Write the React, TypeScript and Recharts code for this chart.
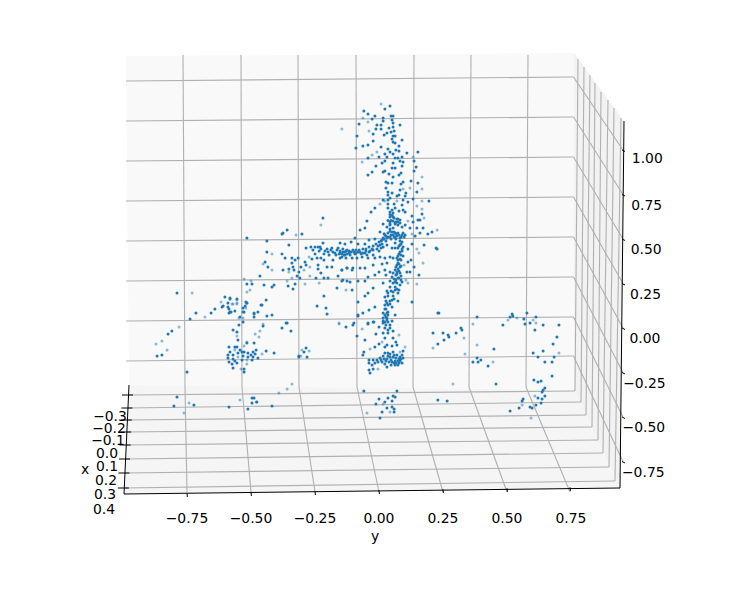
import { ReferenceLine, Scatter, ScatterChart, XAxis, YAxis } from "recharts";

// projected positions: [y axis units, z axis units]
const SOLID_POINTS: number[][] = [
  [.043,1.303],[.023,1.287],[-.059,1.275],[-.016,1.247],[-.043,1.258],[-.027,1.230],[.016,1.236],[.047,1.247],[.055,1.247],[.016,1.219],[-.078,1.202],[.051,1.225],[.055,1.208],[.082,1.197],[-.008,1.197],[.008,1.197],[.039,1.180],[.055,1.185],[.008,1.174],[-.012,1.174],[.047,1.157],[.059,1.163],[-.023,1.146],[.020,1.140],[.031,1.152],[-.086,1.135],[.055,1.135],[.063,1.135],[.051,1.118],[.090,1.112],[-.023,1.107],[.055,1.101],[.063,1.096],[-.043,1.084],[-.063,1.079],[-.090,1.067],[.008,1.073],[.078,1.079],[.035,1.062],[.043,1.045],[.066,1.056],[.078,1.051],[.023,1.034],[.055,1.034],[.109,1.039],[.152,1.045],[0,1.017],[.031,1.017],[-.043,1.011],[.063,1.011],[.074,1.011],[.090,1.017],[.023,.994],[.012,.983],[.082,.994],[.094,.989],[.137,.994],[-.012,.966],[.055,.983],[.090,.966],[.145,.961],[.051,.955],[.063,.955],[.016,.933],[.023,.938],[.137,.938],[-.027,.933],[-.043,.916],[.039,.921],[.086,.927],[.078,.916],[.055,.904],[.125,.882],[.027,.876],[.094,.876],[.035,.871],[.051,.871],[.152,.871],[.086,.865],[.027,.843],[.082,.831],[.148,.820],[.035,.820],[.051,.815],[.105,.815],[.035,.803],[.078,.803],[.070,.798],[.102,.798],[.043,.787],[.016,.775],[.035,.775],[.094,.775],[.113,.764],[.133,.781],[.195,.770],[.035,.753],[.059,.753],[.090,.747],[.035,.730],[.051,.719],[.063,.730],[.094,.719],[-.016,.730],[-.031,.708],[.078,.713],[.102,.708],[.043,.708],[.055,.702],[.129,.685],[.168,.697],[.043,.680],[.055,.680],[.152,.663],[.133,.652],[-.047,.657],[.016,.640],[.043,.652],[.055,.657],[.070,.669],[.082,.663],[.043,.640],[.063,.646],[.082,.646],
  [.074,.669],[.160,.663],[.063,.640],[.043,.635],[-.055,.618],[-.074,.607],[.004,.596],[.031,.624],[.043,.612],[.055,.618],[.074,.635],[.090,.624],[.102,.635],[.121,.618],[.148,.618],[.172,.618],[.207,.596],[.191,.584],[.160,.590],[.141,.573],
  [.023,.579],[.035,.590],[.051,.596],[.063,.590],[.074,.590],[.090,.579],[.102,.579],[.043,.567],[.063,.567],[.082,.562],[.031,.562],[.016,.562],[.012,.551],[.055,.579],[.070,.573],
  [0,.539],[-.012,.528],[-.023,.517],[-.039,.511],[-.051,.500],[-.063,.500],[-.078,.494],[-.090,.494],[-.102,.494],[-.117,.489],[-.129,.489],[-.141,.483],[-.039,.551],[-.016,.556],[-.055,.528],[-.094,.562],[-.109,.539],[-.133,.528],[-.152,.534],[-.082,.528],
  [.090,.539],[.082,.522],[.094,.511],[.074,.506],[.090,.489],[.078,.472],[.094,.461],[.070,.449],[.086,.438],[.074,.421],[.066,.399],[.082,.399],[.063,.382],[.078,.376],[.070,.360],[.086,.348],[.074,.337],[.066,.326],[.055,.365],[.043,.371],[.023,.382],[0,.371],[-.016,.354],[-.043,.343],[.027,.354],[.051,.343],
  [.063,.534],[.051,.506],[.063,.506],[.031,.522],[.016,.511],[0,.489],[-.023,.494],[-.039,.483],[-.063,.478],[-.082,.483],[-.094,.472],[-.113,.466],[-.133,.466],[-.152,.478],[-.145,.455],[-.105,.449],[-.086,.449],[-.066,.455],[-.043,.449],[-.016,.449],[.004,.455],[.023,.449],[.043,.455],[.055,.449],[.031,.421],[.012,.416],[-.055,.393],[-.074,.393],[-.102,.393],[-.125,.393],[-.145,.382],[-.105,.382],[-.023,.410],
  [.113,.500],[.129,.528],[.176,.522],[.223,.506],[.227,.500],[.125,.438],[.113,.427],[.137,.399],[.109,.371],[.121,.371],[.156,.354],
  [.043,.320],[.055,.309],[.070,.309],[.090,.315],[.016,.309],[-.141,.326],[-.113,.315],[-.082,.320],[-.055,.320],[-.105,.270],[-.023,.281],[.043,.287],[.063,.287],[.078,.270],[.055,.258],[.031,.264],[.074,.253],[-.043,.253],[-.055,.236],[.035,.236],[.023,.230],[-.082,.202],[.129,.202],[.027,.208],[.043,.208],[.074,.208],[.023,.185],[.035,.185],[-.016,.174],[.051,.174],[-.039,.157],[.023,.163],[-.063,.140],[.230,.140],[.016,.140],[.031,.140],[-.082,.129],[.035,.129],[.016,.112],[.031,.112],[-.020,.090],[.023,.090],[.035,.090],[-.043,.084],[-.098,.084],
  [-.219,.674],[-.359,.607],[-.375,.590],[-.379,.584],[-.301,.584],[-.516,.562],[-.438,.545],[-.352,.522],[-.219,.534],[-.438,.483],[-.379,.472],[-.266,.511],[-.250,.511],[-.238,.511],[-.230,.511],[-.285,.506],[-.203,.500],[-.184,.506],[-.160,.506],[-.141,.500],[-.125,.494],[-.199,.483],[-.180,.483],[-.152,.489],[-.133,.483],[-.215,.472],[-.195,.466],[-.168,.466],[-.145,.472],[-.125,.472],[-.250,.472],[-.234,.489],[-.242,.449],[-.227,.449],[-.340,.449],[-.367,.449],[-.316,.449],[-.328,.438],[-.445,.427],[-.340,.421],[-.289,.427],[-.262,.444],[-.215,.438],[-.180,.438],[-.152,.449],[-.129,.449],[-.336,.399],[-.434,.399],[-.285,.410],[-.305,.399],[-.238,.410],[-.203,.399],[-.184,.399],[-.375,.382],[-.352,.388],[-.332,.382],[-.238,.388],[-.125,.393],[-.145,.382],[-.313,.371],[-.227,.365],[-.160,.348],[-.465,.348],[-.320,.348],[-.309,.337],[-.246,.337],[-.215,.337],[-.199,.337],[-.145,.320],[-.125,.320],[-.328,.303],[-.516,.303],[-.496,.303],[-.449,.298],[-.355,.292],[-.410,.298],[-.418,.287],[-.336,.275],[-.164,.281],[-.215,.236],[-.582,.219],[-.516,.197],[-.441,.213],[-.461,.185],[-.242,.180],[-.207,.169],[-.563,.152],[-.582,.146],[-.527,.146],[-.473,.146],[-.488,.135],[-.203,.135],[-.418,.129],[-.438,.124],[-.488,.118],[-.543,.118],[-.363,.084],[-.531,.090],
  [-.789,.253],[-.602,.230],[-.582,.225],[-.590,.197],[-.555,.219],[-.609,.180],[-.613,.174],[-.590,.174],[-.586,.163],[-.520,.202],[-.516,.197],[-.523,.180],[-.531,.169],[-.457,.185],[-.488,.140],[-.586,.140],[-.578,.146],[-.641,.163],[-.656,.140],[-.715,.140],[-.738,.107],[-.531,.146],
  [-.809,.039],[-.824,.022],[-.547,.073],[-.570,.045],[-.555,.034],[-.551,-.011],[-.453,.067],[-.379,.056],[-.359,.084],[-.344,.039],[-.848,-.096],[-.867,-.101],[-.516,-.028],[-.488,-.028],
  [-.586,-.051],[-.563,-.051],[-.555,-.051],[-.543,-.067],[-.582,-.079],[-.527,-.079],[-.512,-.084],[-.480,-.067],[-.492,-.079],[-.590,-.096],[-.570,-.096],[-.551,-.084],[-.535,-.079],[-.500,-.096],[-.484,-.090],[-.590,-.112],[-.570,-.118],[-.531,-.101],[-.512,-.107],[-.492,-.107],[-.473,-.112],[-.586,-.135],[-.563,-.129],[-.535,-.124],[-.496,-.124],[-.574,-.146],[-.555,-.140],[-.570,-.169],[-.527,-.174],[-.527,-.191],[-.441,-.073],[-.410,-.084],
  [-.285,-.056],[-.293,-.079],[-.281,-.107],[-.313,-.107],[-.313,-.101],[-.750,-.191],[-.789,-.331],[-.723,-.376],[-.801,-.382],[-.496,-.337],[-.488,-.337],[-.477,-.360],[-.496,-.365],[-.586,-.388],[-.512,-.399],[-.418,-.382],
  [-.129,.062],[-.102,.073],[-.043,.079],[-.023,.090],[-.082,.124],[-.086,.011],[0,.062],[-.012,.022],[-.055,-.011],[.016,.084],[.031,.101],[.051,.096],[.063,.129],[.023,.056],[.043,.056],[.055,.039],[.016,.028],[.035,.028],[.023,0],[.055,0],[.066,-.022],[0,-.034],[-.016,-.051],[-.059,-.079],[-.063,-.096],[.031,-.039],[.051,-.045],[.070,-.039],[.023,-.051],[.094,-.073],[.023,-.084],[.035,-.084],[.055,-.079],[.070,-.096],[.082,-.107],[.094,-.112],[.016,-.101],[.004,-.112],[-.008,-.124],[-.023,-.124],[-.039,-.124],[.031,-.118],[.047,-.124],[.063,-.129],[.074,-.129],[.090,-.140],[.012,-.135],[-.016,-.140],[-.039,-.140],[-.027,-.152],[.023,-.146],[.047,-.152],[.063,-.152],[.074,-.152],[.031,-.163],[-.023,-.174],[-.039,-.180],[-.035,-.197],[.211,.028],[.230,-.034],[.055,-.107],[.066,-.112],[.078,-.118],[.059,-.140],
  [-.059,-.298],[.070,-.298],[.055,-.326],[.063,-.331],[.035,-.337],[0,-.343],[.023,-.360],[.051,-.354],[-.012,-.371],[.051,-.388],[.031,-.393],[.059,-.399],[.012,-.416],[.059,-.416],[.004,-.449],[.230,-.348],
  [.234,.140],[.383,.118],[.250,.028],[.270,.017],[.273,.006],[.301,.028],[.320,.056],[.324,.045],[.254,-.011],[.449,-.062],[.383,-.112],[.398,-.124],[.367,-.135],[.387,-.135],[.426,-.157],
  [.520,.135],[.512,.118],[.523,.124],[.578,.140],[.613,.118],[.566,.107],[.590,.084],[.570,.079],[.484,.073],[.641,.073],[.703,.073],[.609,.045],[.695,.006],[.680,-.034],[.641,-.073],[.602,-.084],[.621,-.107],[.684,-.107],[.676,-.135],[.648,-.135],
  [.676,-.213],[.605,-.236],[.621,-.247],[.633,-.242],[.648,-.281],[.641,-.292],[.637,-.303],[.457,-.258],[.648,-.326],[.621,-.337],[.637,-.343],[.563,-.343],[.559,-.354],[.266,-.354],[.633,-.365],[.613,-.376],[.590,-.388],[.598,-.393],[.547,-.393],[.512,-.410],
];

// the crowded parts of the cloud: the T junction, the column and the base cluster
const CROWDED_POINTS: number[][] = [
  [.020,.585],[.027,.573],[.035,.567],[.047,.579],[.059,.567],[.066,.585],[.078,.579],[.086,.567],[.098,.567],[.047,.556],[.020,.556],[.027,.545],[.008,.545],[.066,.556],[.094,.590],[.059,.596],[.043,.600],
  [.082,.545],[.086,.528],[.078,.517],[.090,.500],[.082,.483],[.086,.466],[.074,.461],[.082,.444],[.074,.438],[.078,.416],[.070,.410],[.086,.404],[.074,.388],[.070,.371],[.082,.365],[.066,.354],[.078,.337],[.059,.331],[.086,.326],[.063,.315],[.082,.298],[.063,.270],[.070,.275],[.047,.264],[.055,.236],[.059,.219],[.035,.253],[.051,.213],
  [.031,.197],[.043,.191],[.027,.163],[.035,.146],[.023,.129],[.027,.118],[.016,.096],[.027,.073],[.043,.073],[.035,.045],
  [-.258,.494],[-.227,.500],[-.211,.489],[-.188,.494],[-.172,.478],[-.164,.494],[-.156,.472],[-.137,.466],[-.117,.477],[-.109,.483],[-.098,.483],[-.090,.477],[-.074,.483],[-.070,.472],[-.055,.478],[-.051,.489],[-.047,.466],[-.035,.489],[-.027,.500],[-.023,.466],[-.008,.500],[-.004,.517],[.004,.522],[.012,.528],[.008,.506],
  [.035,-.101],[.043,-.107],[.039,-.135],[.051,-.135],[.043,-.090],[.059,-.096],[.082,-.129],[.086,-.118],[.090,-.096],[.027,-.129],[.020,-.118],[.008,-.124],[-.004,-.135],[.078,-.140],[.066,-.140],
  [.043,.694],[.051,.690],[.059,.674],[.047,.660],[.066,.652],[.035,.660],[.074,.652],
];

const FADED_POINTS: number[][] = [
  [.008,1.315],[-.063,1.236],[-.043,1.214],[-.145,1.174],[-.039,1.163],[-.008,1.045],[-.027,1.028],[.133,1.017],[-.066,.989],[.168,.904],[.094,.837],[.121,.843],[.168,.837],[.070,.770],[.168,.770],[.004,.753],[.023,.770],[.148,.742],[.168,.725],[.176,.674],[.113,.657],
  [.227,.607],[.129,.584],[.148,.500],[.156,.478],[.172,.421],[.098,.410],[.105,.326],[.113,.309],[.148,.303],[-.129,.270],
  [-.227,.635],[-.324,.579],[-.418,.472],[-.273,.455],[-.453,.416],[-.270,.399],[-.418,.382],[-.352,.371],[-.293,.382],[-.270,.348],[-.340,.337],[-.527,.331],[-.500,.320],[-.359,.320],[-.289,.303],[-.234,.309],[-.504,.270],[-.516,.258],[-.555,.213],[-.574,.191],[-.555,.191],[-.520,.169],[-.547,.112],[-.156,.084],[-.453,.079],
  [-.730,.253],[-.617,.202],[-.555,.197],[-.570,.191],[-.680,.118],[-.531,.112],[-.781,.062],[-.555,.011],[-.465,.039],[-.484,.022],[-.469,.006],[-.848,-.017],[-.871,-.034],[-.828,-.067],[-.516,-.022],[-.527,-.045],[-.563,-.067],[-.551,-.107],[-.516,-.124],[-.516,-.146],[-.539,-.174],[-.457,-.090],[-.301,-.067],[-.273,-.073],[-.305,-.101],[-.340,-.258],[-.359,-.287],[-.391,-.309],[-.742,-.365],[-.762,-.421],[-.543,-.348],[-.480,-.360],
  [-.156,.079],[-.066,.051],[.078,.017],[.012,-.022],[-.035,-.062],[.082,-.079],[.102,-.051],[-.004,-.174],[.211,-.056],[.016,-.371],[.043,-.416],[-.047,-.421],
  [.367,.079],[.332,0],[.383,-.039],[.336,-.090],[.445,-.135],[.504,.101],[.539,.112],[.602,.101],[.613,.084],[.703,-.084],[.289,-.258],[.609,-.326],[.559,-.376],[.594,-.449],
];

const Y_TICKS = [-0.75, -0.5, -0.25, 0, 0.25, 0.5, 0.75];
const Z_TICKS = [-0.75, -0.5, -0.25, 0, 0.25, 0.5, 0.75, 1];
const X_TICK_LABELS = ["−0.3", "−0.2", "−0.1", "0.0", "0.1", "0.2", "0.3", "0.4"];

// 3D box furniture, in page pixels
const FONT = "'DejaVu Sans', sans-serif";
const X_LABEL_POS = [[110, 416], [109, 428], [108, 440], [107, 453], [107, 466], [106, 480], [105, 494], [104, 509]];
const BACK_Z_LEFT = [81, 121, 161, 201, 241, 281, 321, 361];
const BACK_Z_RIGHT = [77, 117, 157, 197, 237, 277, 317, 356];
const SIDE_Z_FRONT = [150, 194.5, 239, 283.5, 328, 372.5, 417, 461.5];
const BACK_Y_TOP = [183, 241, 298, 356, 414, 471, 528];
const BACK_Y_BOTTOM = [185, 242, 299, 357, 413, 469, 526];
const FLOOR_Y_FRONT = [187, 251, 315, 379, 443, 507, 570];
const FLOOR_X_LEFT = [395, 408, 420, 432, 445, 459, 473, 488];
const FLOOR_X_RIGHT = [[575, 391], [581, 402], [586, 415], [592, 427], [598, 440], [603, 453], [609, 467], [615, 481]];
const SIDE_X_TOP = [[578, 59], [584, 67], [590, 75], [595, 83], [601, 92], [608, 100], [614, 108], [621, 118]];

const pxY = (px: number) => (px - 379) / 256;
const pxZ = (py: number) => (338 - py) / 178;

type Seg = [number, number, number, number];

const gridSegments: Seg[] = [
  ...BACK_Z_LEFT.map((l, i): Seg => [126, l, 573.5, BACK_Z_RIGHT[i]]),
  ...BACK_Z_RIGHT.map((r, i): Seg => [573.5, r, 623, SIDE_Z_FRONT[i]]),
  ...BACK_Y_TOP.map((t, i): Seg => [t, 55, BACK_Y_BOTTOM[i], 387]),
  ...BACK_Y_BOTTOM.map((b, i): Seg => [b, 387, FLOOR_Y_FRONT[i], 492]),
  ...FLOOR_X_LEFT.map((l, i): Seg => [128.5 - i * 0.6, l, FLOOR_X_RIGHT[i][0], FLOOR_X_RIGHT[i][1]]),
  ...FLOOR_X_RIGHT.map((b, i): Seg => [b[0], b[1], SIDE_X_TOP[i][0], SIDE_X_TOP[i][1]]),
];

const axisSegments: Seg[] = [
  [129, 385, 124, 494],
  [124, 494, 620, 488],
  [624, 121, 620, 488],
  ...FLOOR_X_LEFT.map((l, i): Seg => [122 - i * 0.6, l, 133 - i * 0.6, l]),
  ...FLOOR_Y_FRONT.map((f, i): Seg => [f, 493.3 - i, f + 0.4, 497 - i]),
  ...SIDE_Z_FRONT.map((f): Seg => [622, f, 625, f + 1.5]),
];

const dot = (opacity: number) => (p: any) => (
  <circle cx={p.cx} cy={p.cy} r={1.5} fill="#1f77b4" fillOpacity={opacity} />
);

const toRows = (pts: number[][]) => pts.map((p) => ({ y: p[0], z: p[1] }));
const fmt = (v: number, digits: number) => v.toFixed(digits).replace("-", "−");

export default function App() {
  return (
    <div style={{ position: "absolute", left: 0, top: 0, width: 746, height: 595, background: "#fff" }}>
      <ScatterChart width={746} height={595} margin={{ top: 0, right: 0, bottom: 0, left: 0 }}>
        <polygon points="126,56 574,53 574,390 129,385" fill="#f9f9f9" />
        <polygon points="574,53 624,121 620,488 574,390" fill="#f2f2f2" />
        <polygon points="129,385 574,390 620,488 124,494" fill="#f5f5f5" />
        <XAxis
          type="number"
          dataKey="y"
          domain={[pxY(0), pxY(624)]}
          allowDataOverflow
          ticks={Y_TICKS}
          interval={0}
          height={85}
          axisLine={false}
          tickLine={false}
          tickSize={0}
          tickMargin={3}
          tickFormatter={(v) => fmt(v, 2)}
          tick={{ fontSize: 13.9, fill: "#000", fontFamily: FONT }}
        />
        <YAxis
          type="number"
          dataKey="z"
          orientation="right"
          domain={[pxZ(510), pxZ(0)]}
          allowDataOverflow
          ticks={Z_TICKS}
          interval={0}
          width={122}
          axisLine={false}
          tickLine={false}
          tick={(p: any) => (
            <text x={645 + 2.3 * p.payload.value} y={p.y - (p.payload.value === 1 ? 2 : 0)} dy=".36em" textAnchor="middle" fontSize={13.9} fontFamily={FONT} fill="#000">
              {fmt(p.payload.value, 2)}
            </text>
          )}
        />
        {gridSegments.map((s, i) => (
          <ReferenceLine
            key={"g" + i}
            ifOverflow="visible"
            stroke="#b0b0b0"
            strokeWidth={1.1}
            segment={[{ x: pxY(s[0]), y: pxZ(s[1]) }, { x: pxY(s[2]), y: pxZ(s[3]) }]}
          />
        ))}
        {axisSegments.map((s, i) => (
          <ReferenceLine
            key={"a" + i}
            ifOverflow="visible"
            stroke="#000"
            strokeWidth={1}
            segment={[{ x: pxY(s[0]), y: pxZ(s[1]) }, { x: pxY(s[2]), y: pxZ(s[3]) }]}
          />
        ))}
        <Scatter data={toRows(FADED_POINTS)} isAnimationActive={false} shape={dot(0.5)} />
        <Scatter data={toRows(SOLID_POINTS)} isAnimationActive={false} shape={dot(1)} />
        <Scatter data={toRows(CROWDED_POINTS)} isAnimationActive={false} shape={dot(1)} />
        {X_TICK_LABELS.map((t, i) => (
          <text key={t} x={X_LABEL_POS[i][0]} y={X_LABEL_POS[i][1]} dy=".36em" textAnchor="middle" fontSize={13.9} fontFamily={FONT} fill="#000">
            {t}
          </text>
        ))}
        <text x={85} y={469} dy=".36em" textAnchor="middle" fontSize={13.9} fontFamily={FONT} fill="#000">
          x
        </text>
        <text x={375} y={536} dy=".36em" textAnchor="middle" fontSize={13.9} fontFamily={FONT} fill="#000">
          y
        </text>
      </ScatterChart>
    </div>
  );
}
